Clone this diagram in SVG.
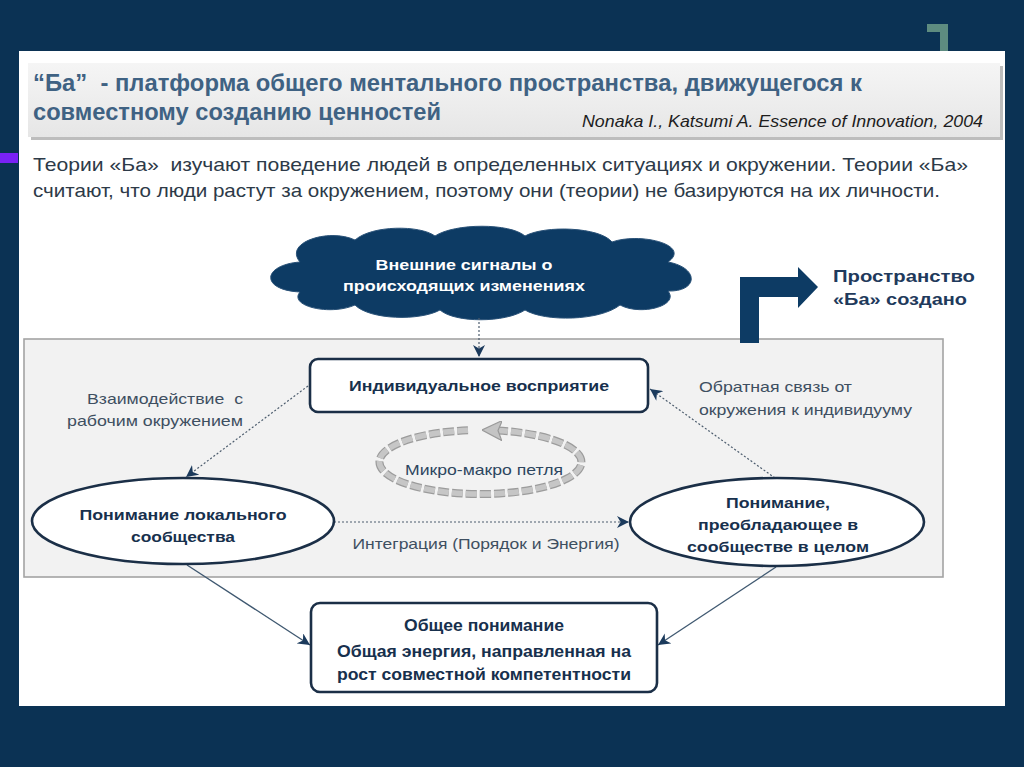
<svg xmlns="http://www.w3.org/2000/svg" width="1024" height="767" viewBox="0 0 1024 767">
<style>
.t{font-family:"Liberation Sans",Arial,sans-serif}
.title{font-weight:bold;font-size:23px;fill:#3f6283}
.cite{font-style:italic;font-size:16.5px;fill:#1d1d1d}
.body{font-size:18.5px;fill:#2d3a48}
.nb{font-weight:bold;font-size:15px;fill:#17304d}
.nc{font-weight:bold;font-size:16.5px;fill:#17304d}
.lbl{font-size:15px;fill:#3e4f61}
.dot{fill:none;stroke:#4d5d6e;stroke-width:1.2;stroke-dasharray:2 2}
.sol{fill:none;stroke:#3f5870;stroke-width:1.3}
.box{fill:#fff;stroke:#1b2f47;stroke-width:2.6}
</style>
<defs>
<marker id="ah" viewBox="0 0 10 10" refX="10" refY="5" markerWidth="12" markerHeight="12" markerUnits="userSpaceOnUse" orient="auto">
<path d="M0,0 L10,5 L0,10 L3,5 Z" fill="#1b3a5c"/>
</marker>
<marker id="ahg" viewBox="0 0 10 10" refX="6" refY="5" markerWidth="20" markerHeight="20" markerUnits="userSpaceOnUse" orient="auto">
<path d="M0,0 L10,5 L0,10 L2,5 Z" fill="#c4c4c4" stroke="#9a9a9a" stroke-width="0.6"/>
</marker>
<linearGradient id="hg" x1="0" y1="0" x2="0" y2="1">
<stop offset="0" stop-color="#f5f5f5"/>
<stop offset="1" stop-color="#e6e6e6"/>
</linearGradient>
</defs>

<rect x="0" y="0" width="1024" height="767" fill="#0b3254"/>
<g id="corner">
<rect x="927" y="24" width="21" height="8" fill="#5e8c80"/>
<rect x="940" y="24" width="8" height="27" fill="#5e8c80"/>
</g>
<rect x="19" y="51" width="986" height="655" fill="#ffffff"/>
<rect x="0" y="153" width="18" height="10" fill="#7a22f5"/>

<g id="header">
<rect x="31" y="66" width="972" height="74" fill="#bdbdbd"/>
<rect x="28" y="63" width="972" height="74" fill="url(#hg)"/>
<text class="t title" x="33" y="91" textLength="829" lengthAdjust="spacingAndGlyphs" xml:space="preserve">“Ба”  - платформа общего ментального пространства, движущегося к</text>
<text class="t title" x="33" y="120" textLength="408" lengthAdjust="spacingAndGlyphs">совместному созданию ценностей</text>
<text class="t cite" x="582" y="127" textLength="401" lengthAdjust="spacingAndGlyphs">Nonaka I., Katsumi A. Essence of Innovation, 2004</text>
</g>

<g id="intro">
<text class="t body" x="33" y="171" textLength="935" lengthAdjust="spacingAndGlyphs" xml:space="preserve">Теории «Ба»  изучают поведение людей в определенных ситуациях и окружении. Теории «Ба»</text>
<text class="t body" x="33" y="197" textLength="907" lengthAdjust="spacingAndGlyphs">считают, что люди растут за окружением, поэтому они (теории) не базируются на их личности.</text>
</g>

<g id="frame">
<rect x="24" y="339" width="919" height="238" fill="#f2f2f2" stroke="#a3a3a3" stroke-width="1.6"/>
</g>

<g id="cloud">
<path d="M300,262 C283,242 330,228 355,240 C372,225 420,225 435,236 C455,223 510,223 525,236 C545,225 600,227 612,242 C640,232 692,245 668,262 C700,268 698,292 668,291 C680,306 640,316 620,305 C600,321 545,322 525,310 C505,323 455,323 440,310 C420,321 370,320 355,305 C330,316 288,306 300,292 C260,290 262,265 300,262 Z" fill="#0d3b64" stroke="#2a5278" stroke-width="1"/>
<text class="t" x="464" y="270" text-anchor="middle" font-weight="bold" font-size="14" fill="#ffffff" textLength="177" lengthAdjust="spacingAndGlyphs">Внешние сигналы о</text>
<text class="t" x="464" y="291" text-anchor="middle" font-weight="bold" font-size="14" fill="#ffffff" textLength="242" lengthAdjust="spacingAndGlyphs">происходящих изменениях</text>
</g>

<g id="connectors">
<path d="M740,343 L740,277 L798,277 L798,267 L818,287 L798,308 L798,297 L759,297 L759,343 Z" fill="#0d3b64"/>
<path class="dot" d="M479,318 L479,357" marker-end="url(#ah)"/>
<path class="dot" d="M308,386 L186,477" marker-end="url(#ah)"/>
<path class="dot" d="M334,522 L629,522" marker-end="url(#ah)"/>
<path class="dot" d="M775,478 L650,389" marker-end="url(#ah)"/>
<path class="sol" d="M187,565 L310,645" marker-end="url(#ah)"/>
<path class="sol" d="M776,567 L658,645" marker-end="url(#ah)"/>
<g id="loop">
<path d="M468,430.3 A101,32 0 1 0 490,430.2" fill="none" stroke="#9c9c9c" stroke-width="8" stroke-dasharray="11 3"/>
<path d="M468,430.3 A101,32 0 1 0 490,430.2" fill="none" stroke="#c6c6c6" stroke-width="5.5" stroke-dasharray="11 3" marker-end="url(#ahg)"/>
</g>
</g>

<g id="individual">
<rect class="box" x="310" y="359" width="338" height="53" rx="8"/>
<text class="t nb" x="479" y="391" text-anchor="middle" textLength="260" lengthAdjust="spacingAndGlyphs">Индивидуальное восприятие</text>
</g>

<g id="label-interaction">
<text class="t lbl" x="243" y="404" text-anchor="end" textLength="156" lengthAdjust="spacingAndGlyphs" xml:space="preserve">Взаимодействие  с</text>
<text class="t lbl" x="243" y="426" text-anchor="end" textLength="176" lengthAdjust="spacingAndGlyphs">рабочим окружением</text>
</g>

<g id="label-feedback">
<text class="t lbl" x="699" y="392" textLength="153" lengthAdjust="spacingAndGlyphs">Обратная связь от</text>
<text class="t lbl" x="699" y="415" textLength="213" lengthAdjust="spacingAndGlyphs">окружения к индивидууму</text>
</g>

<g id="micro-macro">
<text class="t" x="484" y="475" text-anchor="middle" font-size="15" fill="#2d4660" textLength="158" lengthAdjust="spacingAndGlyphs">Микро-макро петля</text>
</g>

<g id="local">
<ellipse class="box" cx="183" cy="521" rx="151" ry="43"/>
<text class="t nb" x="183" y="520" text-anchor="middle" textLength="207" lengthAdjust="spacingAndGlyphs">Понимание локального</text>
<text class="t nb" x="183" y="542" text-anchor="middle" textLength="104" lengthAdjust="spacingAndGlyphs">сообщества</text>
</g>

<g id="label-integration">
<text class="t lbl" x="486" y="549" text-anchor="middle" textLength="267" lengthAdjust="spacingAndGlyphs">Интеграция (Порядок и Энергия)</text>
</g>

<g id="community">
<ellipse class="box" cx="777" cy="522" rx="147" ry="44"/>
<text class="t nb" x="778" y="508" text-anchor="middle" textLength="104" lengthAdjust="spacingAndGlyphs">Понимание,</text>
<text class="t nb" x="778" y="530" text-anchor="middle" textLength="160" lengthAdjust="spacingAndGlyphs">преобладающее в</text>
<text class="t nb" x="778" y="552" text-anchor="middle" textLength="182" lengthAdjust="spacingAndGlyphs">сообществе в целом</text>
</g>

<g id="common">
<rect class="box" x="311" y="603" width="346" height="89" rx="9"/>
<text class="t nc" x="484" y="631" text-anchor="middle" textLength="160" lengthAdjust="spacingAndGlyphs">Общее понимание</text>
<text class="t nc" x="484" y="657" text-anchor="middle" textLength="294" lengthAdjust="spacingAndGlyphs">Общая энергия, направленная на</text>
<text class="t nc" x="484" y="680" text-anchor="middle" textLength="294" lengthAdjust="spacingAndGlyphs">рост совместной компетентности</text>
</g>

<g id="ba-created">
<text class="t" x="833" y="282" font-weight="bold" font-size="17" fill="#1f3a5c" textLength="142" lengthAdjust="spacingAndGlyphs">Пространство</text>
<text class="t" x="833" y="305" font-weight="bold" font-size="17" fill="#1f3a5c" textLength="134" lengthAdjust="spacingAndGlyphs">«Ба» создано</text>
</g>
</svg>
